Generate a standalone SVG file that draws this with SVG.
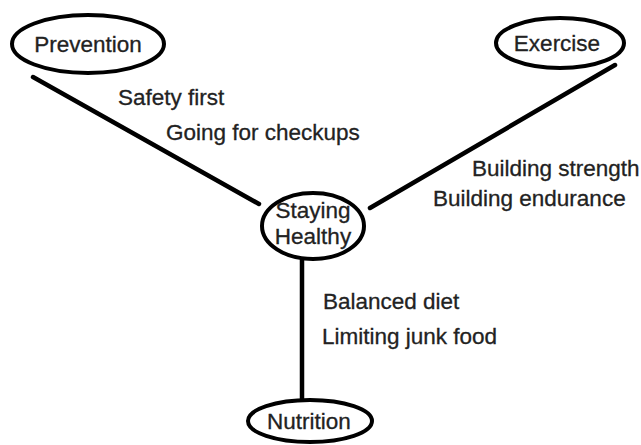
<svg xmlns="http://www.w3.org/2000/svg" width="641" height="445" viewBox="0 0 641 445">
<style>
.n{fill:#fff;stroke:#000;stroke-width:4}
.c{stroke:#000;stroke-width:4.5;stroke-linecap:round;fill:none}
text{font-family:"Liberation Sans",Arial,sans-serif;font-size:22.5px;fill:#222;stroke:#222;stroke-width:0.3}
.m{text-anchor:middle}
</style>
<rect width="641" height="445" fill="#fff"/>
<g id="connectors">
<line class="c" x1="33" y1="77" x2="259" y2="204"/>
<line class="c" x1="615" y1="65" x2="370" y2="208"/>
<line class="c" x1="302" y1="259" x2="302" y2="400"/>
</g>
<g id="prevention">
<ellipse class="n" cx="88" cy="44" rx="76" ry="29"/>
<text class="m" x="88" y="52">Prevention</text>
</g>
<g id="exercise">
<ellipse class="n" cx="560" cy="43" rx="64" ry="25"/>
<text class="m" x="557" y="51">Exercise</text>
</g>
<g id="staying-healthy">
<ellipse class="n" cx="313" cy="226" rx="51" ry="33"/>
<text class="m" x="313" y="218">Staying</text>
<text class="m" x="313" y="244">Healthy</text>
</g>
<g id="nutrition">
<ellipse class="n" cx="310" cy="421" rx="62" ry="21"/>
<text class="m" x="309" y="429">Nutrition</text>
</g>
<g id="labels">
<text x="118" y="105">Safety first</text>
<text x="166" y="140">Going for checkups</text>
<text x="472" y="176">Building strength</text>
<text x="433" y="206">Building endurance</text>
<text x="323" y="309">Balanced diet</text>
<text x="322" y="344">Limiting junk food</text>
</g>
</svg>
